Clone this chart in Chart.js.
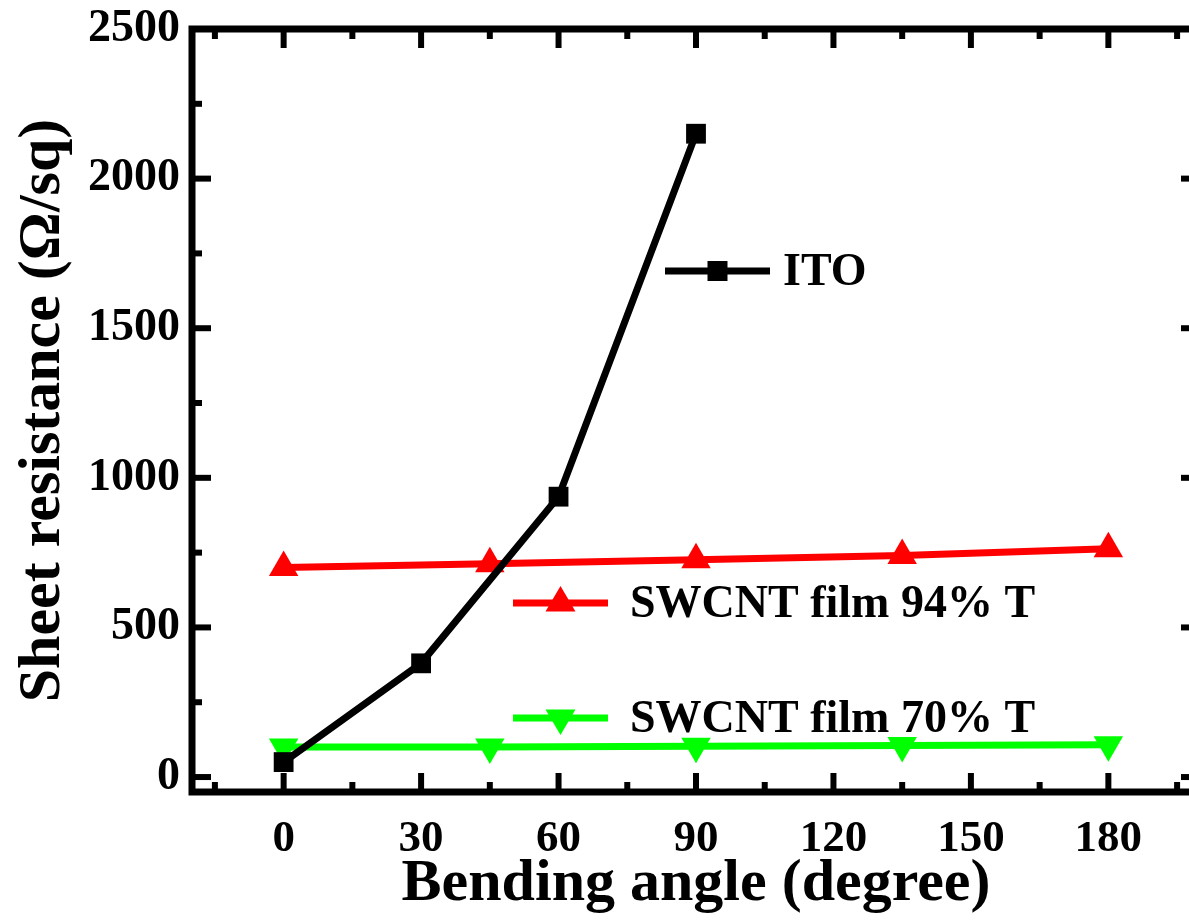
<!DOCTYPE html>
<html>
<head>
<meta charset="utf-8">
<script src="https://cdn.jsdelivr.net/npm/chart.js@4.4.1/dist/chart.umd.min.js"></script>
<style>
html,body{margin:0;padding:0;background:#fff;overflow:hidden;}
#wrap{width:1218px;height:920px;position:relative;}
</style>
</head>
<body>
<div id="wrap"><canvas id="c" width="1218" height="920"></canvas></div>
<script>
// ---- data ----
const itoAngles = [0, 30, 60, 90];
const itoValues = [50, 380, 937, 2150];
const swAngles = [0, 45, 90, 135, 180];
const sw94Values = [700, 713, 726, 740, 763];
const sw70Values = [100, 100, 103, 105, 108];
const xTickValues = [0, 30, 60, 90, 120, 150, 180];
const xMinorValues = [-15, 15, 45, 75, 105, 135, 165, 195];
const yTickValues = [0, 500, 1000, 1500, 2000, 2500];
const yMinorValues = [250, 750, 1250, 1750, 2250];
const seriesNames = ['ITO', 'SWCNT film 94% T', 'SWCNT film 70% T'];
const xTitle = 'Bending angle (degree)';
const yTitle = 'Sheet resistance (\u03A9/sq)';

const FONT = '"Liberation Serif","Times New Roman",serif';

function pts(xs, ys){ return xs.map((v,i)=>({x:v, y:ys[i]})); }

function drawMarker(ctx, style, x, y, color){
  ctx.save();
  ctx.fillStyle = color;
  ctx.beginPath();
  if (style === 'rect'){
    ctx.rect(x-10, y-10, 20, 20);
  } else if (style === 'up'){
    ctx.moveTo(x, y-17); ctx.lineTo(x+15, y+8.5); ctx.lineTo(x-15, y+8.5); ctx.closePath();
  } else {
    ctx.moveTo(x, y+17); ctx.lineTo(x+15, y-8.5); ctx.lineTo(x-15, y-8.5); ctx.closePath();
  }
  ctx.fill();
  ctx.restore();
}

const framePlugin = {
  id: 'framePlugin',
  afterDraw(chart){
    const {ctx, chartArea:a, scales:{x, y}} = chart;
    ctx.save();
    ctx.strokeStyle = '#000';
    ctx.lineCap = 'butt';
    const line = (x1,y1,x2,y2)=>{ctx.beginPath();ctx.moveTo(x1,y1);ctx.lineTo(x2,y2);ctx.stroke();};
    ctx.lineWidth = 6;
    xTickValues.forEach(v=>{const p=x.getPixelForValue(v); line(p,a.bottom,p,a.bottom-19); line(p,a.top,p,a.top+19);});
    yTickValues.forEach(v=>{const p=y.getPixelForValue(v); line(a.left,p,a.left+19,p); line(a.right,p,a.right-19,p);});
    xMinorValues.forEach(v=>{const p=x.getPixelForValue(v); line(p,a.bottom,p,a.bottom-10); line(p,a.top,p,a.top+10);});
    yMinorValues.forEach(v=>{const p=y.getPixelForValue(v); line(a.left,p,a.left+10,p); line(a.right,p,a.right-10,p);});
    ctx.lineWidth = 7;
    ctx.strokeRect(a.left, a.top, a.right-a.left, a.bottom-a.top);

    // legend
    const items = [
      {name: seriesNames[0], color:'#000000', style:'rect', x1:665, x2:770, y:271, tx:783},
      {name: seriesNames[1], color:'#ff0000', style:'up', x1:513, x2:608, y:603, tx:630},
      {name: seriesNames[2], color:'#00ff00', style:'down', x1:513, x2:608, y:718, tx:630}
    ];
    ctx.font = 'bold 46px ' + FONT;
    ctx.textBaseline = 'middle';
    ctx.fillStyle = '#000';
    items.forEach(it=>{
      ctx.strokeStyle = it.color; ctx.lineWidth = 7;
      line(it.x1, it.y, it.x2, it.y);
      drawMarker(ctx, it.style, (it.x1+it.x2)/2, it.y, it.color);
      ctx.fillStyle = '#000';
      ctx.fillText(it.name, it.tx, it.y+2);
    });
    ctx.restore();
  }
};

new Chart(document.getElementById('c'), {
  type: 'line',
  data: {
    datasets: [
      {label: seriesNames[0], data: pts(itoAngles, itoValues), borderColor:'#000', backgroundColor:'#000',
       borderWidth:7, pointStyle:'rect', pointRadius:14, pointHoverRadius:14, pointBorderWidth:0, tension:0},
      {label: seriesNames[1], data: pts(swAngles, sw94Values), borderColor:'#ff0000', backgroundColor:'#ff0000',
       borderWidth:7, pointStyle:'triangle', pointRadius:17, pointHoverRadius:17, pointBorderWidth:0, tension:0},
      {label: seriesNames[2], data: pts(swAngles, sw70Values), borderColor:'#00ff00', backgroundColor:'#00ff00',
       borderWidth:7, pointStyle:'triangle', rotation:180, pointRotation:180, pointRadius:17, pointHoverRadius:17, pointBorderWidth:0, tension:0}
    ]
  },
  options: {
    responsive:false, animation:false, devicePixelRatio:1,
    layout:{padding:{top:29, right:18, left:0, bottom:0}},
    plugins:{legend:{display:false}, tooltip:{enabled:false}},
    scales:{
      x:{type:'linear', min:-20, max:200,
         afterBuildTicks(s){ s.ticks = xTickValues.map(v=>({value:v})); },
         afterFit(s){ s.height = 128; s.paddingLeft = 0; s.paddingRight = 0; },
         grid:{display:false, drawTicks:false}, border:{display:false},
         ticks:{color:'#000', padding:20, maxRotation:0, callback:v=>String(v), font:{family:FONT, weight:'bold', size:45}},
         title:{display:true, text:xTitle, color:'#000', padding:{top:0,bottom:0}, font:{family:FONT, weight:'bold', size:60}}
      },
      y:{type:'linear', min:-50, max:2500,
         afterBuildTicks(s){ s.ticks = yTickValues.map(v=>({value:v})); },
         afterFit(s){ s.width = 192; s.paddingTop = 0; s.paddingBottom = 0; },
         grid:{display:false, drawTicks:false}, border:{display:false},
         ticks:{color:'#000', padding:12, callback:v=>String(v), font:{family:FONT, weight:'bold', size:46}},
         title:{display:true, text:yTitle, color:'#000', padding:{top:7,bottom:0}, font:{family:FONT, weight:'bold', size:60}}
      }
    }
  },
  plugins:[framePlugin]
});
</script>
</body>
</html>
